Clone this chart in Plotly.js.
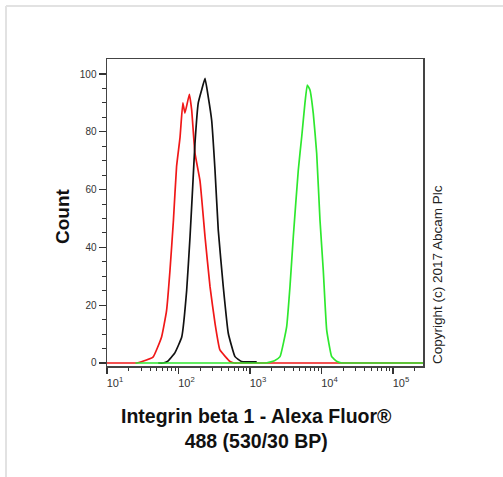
<!DOCTYPE html>
<html>
<head>
<meta charset="utf-8">
<script src="https://cdn.plot.ly/plotly-3.0.1.min.js"></script>
<style>
  html, body { margin: 0; padding: 0; background: #fff; }
  #chart { width: 503px; height: 477px; }
</style>
</head>
<body>
<div id="chart"></div>
<script>
// Red histogram (isotype control)
const redX = [10, 22, 26, 31, 44, 58, 68, 76, 85, 94, 105, 115, 123, 142, 153, 170, 200, 235, 276, 324, 380, 525, 600, 700, 263000];
const redY = [0, 0, 0, 0.5, 2, 9, 18, 32, 49.5, 68, 78, 90, 86.5, 93, 87.5, 72.6, 63, 43.7, 26.4, 13.8, 4.5, 0.5, 0, 0, 0];

// Black histogram (unlabelled control)
const blackX = [52, 61, 70, 89, 111, 130, 145, 158, 170, 189, 211, 235, 261, 291, 324, 360, 423, 497, 617, 760, 899, 1242];
const blackY = [0, 0, 0.5, 3.5, 9, 25, 43.7, 61, 76, 90, 94.5, 98.5, 92, 84, 66.8, 46, 26.4, 10.3, 2.2, 0.5, 0.4, 0.4];

// Green histogram (Integrin beta 1 stained)
const greenX = [25, 1500, 1700, 1905, 2200, 2630, 3260, 3625, 4035, 4740, 5290, 5875, 6330, 6900, 7680, 8570, 9530, 10600, 11830, 13900, 16500, 19200, 22000, 263000];
const greenY = [0, 0, 0, 0.3, 0.8, 2.2, 12.6, 26.4, 43.7, 66.8, 78.3, 90, 96.2, 94.5, 86.4, 72.5, 49.5, 32, 11.4, 2.2, 0.5, 0, 0, 0];

const yTicks = [0, 20, 40, 60, 80, 100];
const yMinorTicks = [5, 10, 15, 25, 30, 35, 45, 50, 55, 65, 70, 75, 85, 90, 95];
const xTicks = [10, 100, 1000, 10000, 100000];
const xTickText = ["10<sup>1</sup>", "10<sup>2</sup>", "10<sup>3</sup>", "10<sup>4</sup>", "10<sup>5</sup>"];
const xMinorDigits = [2, 3, 4, 5, 6, 7, 8, 9];
const xTitleText = "Integrin beta 1 - Alexa Fluor®<br>488 (530/30 BP)";
const yTitleText = "Count";
const copyrightText = "Copyright (c) 2017 Abcam Plc";

const xMinorTicks = [];
xTicks.forEach(d => xMinorDigits.forEach(m => xMinorTicks.push(d * m)));

const FONT = "Arial, 'Liberation Sans', sans-serif";

const lineStyle = (c) => ({ color: c, width: 1.7, shape: "spline", smoothing: 0.35 });
const traces = [
  { x: redX, y: redY, type: "scatter", mode: "lines", line: lineStyle("#f01818"), hoverinfo: "skip" },
  { x: blackX, y: blackY, type: "scatter", mode: "lines", line: lineStyle("#111111"), hoverinfo: "skip" },
  { x: greenX, y: greenY, type: "scatter", mode: "lines", line: lineStyle("#2ee82e"), hoverinfo: "skip" }
];

// plot area in pixels: x 107..423, y 59..366
const L = 107, R = 423, T = 59, B = 366, W = 503, H = 477;
const px = v => (v - L) / (R - L);
const py = v => (B - v) / (B - T);

const layout = {
  width: W, height: H,
  margin: { l: L, r: W - R, t: T, b: H - B, pad: 0 },
  paper_bgcolor: "#ffffff",
  plot_bgcolor: "#ffffff",
  showlegend: false,
  font: { family: FONT, color: "#333" },
  xaxis: {
    type: "log",
    range: [1, 5.42],
    tickmode: "array",
    tickvals: xTicks,
    ticktext: xTickText,
    showgrid: false,
    zeroline: false,
    showline: true,
    mirror: true,
    linecolor: "#444",
    linewidth: 1.5,
    ticks: "outside",
    ticklen: 6,
    tickwidth: 1.3,
    tickcolor: "#333",
    ticklabelshift: 8,
    tickfont: { size: 11, color: "#333", family: FONT },
    minor: { tickmode: "array", tickvals: xMinorTicks, ticks: "outside", ticklen: 3, tickwidth: 1, tickcolor: "#333", showgrid: false }
  },
  yaxis: {
    range: [-1.04, 105.2],
    tickmode: "array",
    tickvals: yTicks,
    showgrid: false,
    zeroline: false,
    showline: true,
    mirror: true,
    linecolor: "#444",
    linewidth: 1.5,
    ticks: "outside",
    ticklen: 7,
    tickwidth: 1.3,
    tickcolor: "#333",
    tickfont: { size: 10, color: "#333", family: FONT },
    minor: { tickmode: "array", tickvals: yMinorTicks, ticks: "outside", ticklen: 4, tickwidth: 1, tickcolor: "#333", showgrid: false }
  },
  shapes: [
    { type: "line", xref: "paper", yref: "paper", x0: px(6), x1: px(503), y0: py(6), y1: py(6), line: { color: "#e2e2e2", width: 2 }, layer: "below" },
    { type: "line", xref: "paper", yref: "paper", x0: px(6), x1: px(6), y0: py(6), y1: py(477), line: { color: "#e2e2e2", width: 2 }, layer: "below" }
  ],
  annotations: [
    { text: "<b>" + xTitleText + "</b>", xref: "paper", yref: "paper", x: px(256), y: py(428), xanchor: "center", yanchor: "middle", showarrow: false, font: { size: 19.5, color: "#111", family: FONT } },
    { text: "<b>" + yTitleText + "</b>", xref: "paper", yref: "paper", x: px(62), y: py(216), xanchor: "center", yanchor: "middle", textangle: -90, showarrow: false, font: { size: 19, color: "#111", family: FONT } },
    { text: copyrightText, xref: "paper", yref: "paper", x: px(437), y: py(275), xanchor: "center", yanchor: "middle", textangle: -90, showarrow: false, font: { size: 13.5, color: "#222", family: FONT } }
  ]
};

Plotly.newPlot("chart", traces, layout, { staticPlot: true, displayModeBar: false });
</script>
</body>
</html>
